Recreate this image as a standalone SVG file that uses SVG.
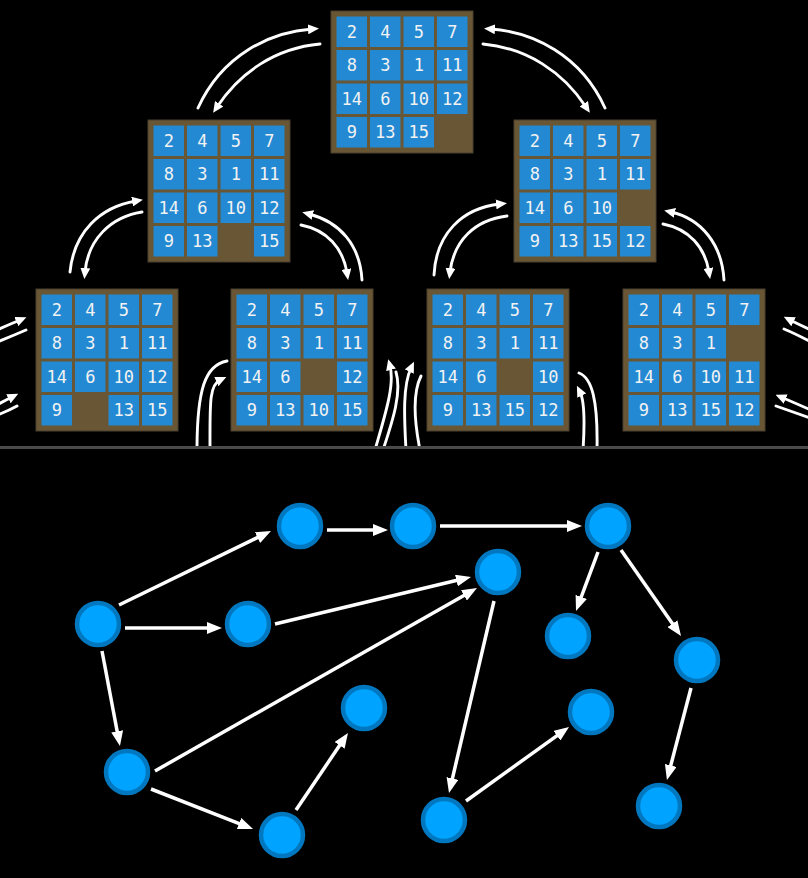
<svg xmlns="http://www.w3.org/2000/svg" width="808" height="878" viewBox="0 0 808 878">
<defs>
<style>
.board{fill:#685634;stroke:#4a4030;stroke-width:1}
.t{fill:#2389d3}
.n{font-family:"DejaVu Sans Mono","Liberation Mono",monospace;font-size:17px;fill:#f2f2f2;text-anchor:middle}
.arc{fill:none;stroke:#fff;stroke-width:2.9;stroke-linecap:round}
.edge{fill:none;stroke:#fff;stroke-width:3.5}
.node{fill:#00a3ff;stroke:#0077be;stroke-width:4.5}
</style>
<marker id="ah" viewBox="0 0 11 10" markerWidth="11" markerHeight="10" refX="4" refY="5" orient="auto" markerUnits="userSpaceOnUse"><path d="M0,0 L11,5 L0,10 z" fill="#fff"/></marker>
<marker id="ah2" viewBox="0 0 15 12" markerWidth="15" markerHeight="12" refX="5" refY="6" orient="auto" markerUnits="userSpaceOnUse"><path d="M0,0 L15,6 L0,12 z" fill="#fff"/></marker>
<clipPath id="topclip"><rect x="0" y="0" width="808" height="446"/></clipPath>
</defs>
<rect x="0" y="0" width="808" height="878" fill="#000"/>

<g id="connectors-top" clip-path="url(#topclip)">
<path class="arc" d="M198,108 C222,55 270,32 312,29" marker-end="url(#ah)"/>
<path class="arc" d="M320,44 C276,48 240,72 217,107" marker-end="url(#ah)"/>
<path class="arc" d="M605,108 C581,55 533,32 491,29" marker-end="url(#ah)"/>
<path class="arc" d="M483,44 C527,48 563,72 586,107" marker-end="url(#ah)"/>
<path class="arc" d="M70,272 C74,232 100,207 136,201" marker-end="url(#ah)"/>
<path class="arc" d="M142,212 C110,217 88,240 85,272" marker-end="url(#ah)"/>
<path class="arc" d="M362,280 C360,245 340,222 309,214" marker-end="url(#ah)"/>
<path class="arc" d="M301,225 C327,230 343,248 347,273" marker-end="url(#ah)"/>
<path class="arc" d="M434,275 C436,234 462,208 500,204" marker-end="url(#ah)"/>
<path class="arc" d="M507,216 C475,220 454,240 450,272" marker-end="url(#ah)"/>
<path class="arc" d="M724,280 C722,245 702,219 671,212" marker-end="url(#ah)"/>
<path class="arc" d="M663,224 C689,229 705,247 709,272" marker-end="url(#ah)"/>
<path class="arc" d="M-5,331 Q8,325 20,320" marker-end="url(#ah)"/>
<path class="arc" d="M26,330 Q12,336 -5,343"/>
<path class="arc" d="M-5,406 Q4,401 12,397" marker-end="url(#ah)"/>
<path class="arc" d="M17,406 Q8,411 -5,416"/>
<path class="arc" d="M813,331 Q800,325 790,320" marker-end="url(#ah)"/>
<path class="arc" d="M784,329 Q796,334 813,343"/>
<path class="arc" d="M813,411 Q795,403 782,397.5" marker-end="url(#ah)"/>
<path class="arc" d="M776,406 Q790,411 813,419"/>
<path class="arc" d="M227,361 C205,365 197,390 197,450"/>
<path class="arc" d="M210,450 C210,405 209,385 220,380" marker-end="url(#ah)"/>
<path class="arc" d="M375,450 C385,415 395,385 390,366" marker-end="url(#ah)"/>
<path class="arc" d="M383,450 C393,420 402,392 396,372"/>
<path class="arc" d="M406,450 C404,415 403,385 411,368" marker-end="url(#ah)"/>
<path class="arc" d="M420,450 C414,420 413,392 421,376"/>
<path class="arc" d="M579,373 C592,378 598,400 597,450"/>
<path class="arc" d="M583,450 C585,420 584,400 580,392" marker-end="url(#ah)"/>
</g>

<g id="board-top" transform="translate(331,11)">
<rect class="board" width="142" height="142"/>
<rect class="t" x="5.5" y="5.5" width="30.5" height="30.5"/><rect class="t" x="39" y="5.5" width="30.5" height="30.5"/><rect class="t" x="72.5" y="5.5" width="30.5" height="30.5"/><rect class="t" x="106" y="5.5" width="30.5" height="30.5"/>
<rect class="t" x="5.5" y="39" width="30.5" height="30.5"/><rect class="t" x="39" y="39" width="30.5" height="30.5"/><rect class="t" x="72.5" y="39" width="30.5" height="30.5"/><rect class="t" x="106" y="39" width="30.5" height="30.5"/>
<rect class="t" x="5.5" y="72.5" width="30.5" height="30.5"/><rect class="t" x="39" y="72.5" width="30.5" height="30.5"/><rect class="t" x="72.5" y="72.5" width="30.5" height="30.5"/><rect class="t" x="106" y="72.5" width="30.5" height="30.5"/>
<rect class="t" x="5.5" y="106" width="30.5" height="30.5"/><rect class="t" x="39" y="106" width="30.5" height="30.5"/><rect class="t" x="72.5" y="106" width="30.5" height="30.5"/>
<text class="n" x="20.75" y="26.5">2</text><text class="n" x="54.25" y="26.5">4</text><text class="n" x="87.75" y="26.5">5</text><text class="n" x="121.25" y="26.5">7</text>
<text class="n" x="20.75" y="60">8</text><text class="n" x="54.25" y="60">3</text><text class="n" x="87.75" y="60">1</text><text class="n" x="121.25" y="60">11</text>
<text class="n" x="20.75" y="93.5">14</text><text class="n" x="54.25" y="93.5">6</text><text class="n" x="87.75" y="93.5">10</text><text class="n" x="121.25" y="93.5">12</text>
<text class="n" x="20.75" y="127">9</text><text class="n" x="54.25" y="127">13</text><text class="n" x="87.75" y="127">15</text>
</g>

<g id="board-mid-left" transform="translate(148,120)">
<rect class="board" width="142" height="142"/>
<rect class="t" x="5.5" y="5.5" width="30.5" height="30.5"/><rect class="t" x="39" y="5.5" width="30.5" height="30.5"/><rect class="t" x="72.5" y="5.5" width="30.5" height="30.5"/><rect class="t" x="106" y="5.5" width="30.5" height="30.5"/>
<rect class="t" x="5.5" y="39" width="30.5" height="30.5"/><rect class="t" x="39" y="39" width="30.5" height="30.5"/><rect class="t" x="72.5" y="39" width="30.5" height="30.5"/><rect class="t" x="106" y="39" width="30.5" height="30.5"/>
<rect class="t" x="5.5" y="72.5" width="30.5" height="30.5"/><rect class="t" x="39" y="72.5" width="30.5" height="30.5"/><rect class="t" x="72.5" y="72.5" width="30.5" height="30.5"/><rect class="t" x="106" y="72.5" width="30.5" height="30.5"/>
<rect class="t" x="5.5" y="106" width="30.5" height="30.5"/><rect class="t" x="39" y="106" width="30.5" height="30.5"/><rect class="t" x="106" y="106" width="30.5" height="30.5"/>
<text class="n" x="20.75" y="26.5">2</text><text class="n" x="54.25" y="26.5">4</text><text class="n" x="87.75" y="26.5">5</text><text class="n" x="121.25" y="26.5">7</text>
<text class="n" x="20.75" y="60">8</text><text class="n" x="54.25" y="60">3</text><text class="n" x="87.75" y="60">1</text><text class="n" x="121.25" y="60">11</text>
<text class="n" x="20.75" y="93.5">14</text><text class="n" x="54.25" y="93.5">6</text><text class="n" x="87.75" y="93.5">10</text><text class="n" x="121.25" y="93.5">12</text>
<text class="n" x="20.75" y="127">9</text><text class="n" x="54.25" y="127">13</text><text class="n" x="121.25" y="127">15</text>
</g>

<g id="board-mid-right" transform="translate(514,120)">
<rect class="board" width="142" height="142"/>
<rect class="t" x="5.5" y="5.5" width="30.5" height="30.5"/><rect class="t" x="39" y="5.5" width="30.5" height="30.5"/><rect class="t" x="72.5" y="5.5" width="30.5" height="30.5"/><rect class="t" x="106" y="5.5" width="30.5" height="30.5"/>
<rect class="t" x="5.5" y="39" width="30.5" height="30.5"/><rect class="t" x="39" y="39" width="30.5" height="30.5"/><rect class="t" x="72.5" y="39" width="30.5" height="30.5"/><rect class="t" x="106" y="39" width="30.5" height="30.5"/>
<rect class="t" x="5.5" y="72.5" width="30.5" height="30.5"/><rect class="t" x="39" y="72.5" width="30.5" height="30.5"/><rect class="t" x="72.5" y="72.5" width="30.5" height="30.5"/>
<rect class="t" x="5.5" y="106" width="30.5" height="30.5"/><rect class="t" x="39" y="106" width="30.5" height="30.5"/><rect class="t" x="72.5" y="106" width="30.5" height="30.5"/><rect class="t" x="106" y="106" width="30.5" height="30.5"/>
<text class="n" x="20.75" y="26.5">2</text><text class="n" x="54.25" y="26.5">4</text><text class="n" x="87.75" y="26.5">5</text><text class="n" x="121.25" y="26.5">7</text>
<text class="n" x="20.75" y="60">8</text><text class="n" x="54.25" y="60">3</text><text class="n" x="87.75" y="60">1</text><text class="n" x="121.25" y="60">11</text>
<text class="n" x="20.75" y="93.5">14</text><text class="n" x="54.25" y="93.5">6</text><text class="n" x="87.75" y="93.5">10</text>
<text class="n" x="20.75" y="127">9</text><text class="n" x="54.25" y="127">13</text><text class="n" x="87.75" y="127">15</text><text class="n" x="121.25" y="127">12</text>
</g>

<g id="board-bottom-1" transform="translate(36,289)">
<rect class="board" width="142" height="142"/>
<rect class="t" x="5.5" y="5.5" width="30.5" height="30.5"/><rect class="t" x="39" y="5.5" width="30.5" height="30.5"/><rect class="t" x="72.5" y="5.5" width="30.5" height="30.5"/><rect class="t" x="106" y="5.5" width="30.5" height="30.5"/>
<rect class="t" x="5.5" y="39" width="30.5" height="30.5"/><rect class="t" x="39" y="39" width="30.5" height="30.5"/><rect class="t" x="72.5" y="39" width="30.5" height="30.5"/><rect class="t" x="106" y="39" width="30.5" height="30.5"/>
<rect class="t" x="5.5" y="72.5" width="30.5" height="30.5"/><rect class="t" x="39" y="72.5" width="30.5" height="30.5"/><rect class="t" x="72.5" y="72.5" width="30.5" height="30.5"/><rect class="t" x="106" y="72.5" width="30.5" height="30.5"/>
<rect class="t" x="5.5" y="106" width="30.5" height="30.5"/><rect class="t" x="72.5" y="106" width="30.5" height="30.5"/><rect class="t" x="106" y="106" width="30.5" height="30.5"/>
<text class="n" x="20.75" y="26.5">2</text><text class="n" x="54.25" y="26.5">4</text><text class="n" x="87.75" y="26.5">5</text><text class="n" x="121.25" y="26.5">7</text>
<text class="n" x="20.75" y="60">8</text><text class="n" x="54.25" y="60">3</text><text class="n" x="87.75" y="60">1</text><text class="n" x="121.25" y="60">11</text>
<text class="n" x="20.75" y="93.5">14</text><text class="n" x="54.25" y="93.5">6</text><text class="n" x="87.75" y="93.5">10</text><text class="n" x="121.25" y="93.5">12</text>
<text class="n" x="20.75" y="127">9</text><text class="n" x="87.75" y="127">13</text><text class="n" x="121.25" y="127">15</text>
</g>

<g id="board-bottom-2" transform="translate(231,289)">
<rect class="board" width="142" height="142"/>
<rect class="t" x="5.5" y="5.5" width="30.5" height="30.5"/><rect class="t" x="39" y="5.5" width="30.5" height="30.5"/><rect class="t" x="72.5" y="5.5" width="30.5" height="30.5"/><rect class="t" x="106" y="5.5" width="30.5" height="30.5"/>
<rect class="t" x="5.5" y="39" width="30.5" height="30.5"/><rect class="t" x="39" y="39" width="30.5" height="30.5"/><rect class="t" x="72.5" y="39" width="30.5" height="30.5"/><rect class="t" x="106" y="39" width="30.5" height="30.5"/>
<rect class="t" x="5.5" y="72.5" width="30.5" height="30.5"/><rect class="t" x="39" y="72.5" width="30.5" height="30.5"/><rect class="t" x="106" y="72.5" width="30.5" height="30.5"/>
<rect class="t" x="5.5" y="106" width="30.5" height="30.5"/><rect class="t" x="39" y="106" width="30.5" height="30.5"/><rect class="t" x="72.5" y="106" width="30.5" height="30.5"/><rect class="t" x="106" y="106" width="30.5" height="30.5"/>
<text class="n" x="20.75" y="26.5">2</text><text class="n" x="54.25" y="26.5">4</text><text class="n" x="87.75" y="26.5">5</text><text class="n" x="121.25" y="26.5">7</text>
<text class="n" x="20.75" y="60">8</text><text class="n" x="54.25" y="60">3</text><text class="n" x="87.75" y="60">1</text><text class="n" x="121.25" y="60">11</text>
<text class="n" x="20.75" y="93.5">14</text><text class="n" x="54.25" y="93.5">6</text><text class="n" x="121.25" y="93.5">12</text>
<text class="n" x="20.75" y="127">9</text><text class="n" x="54.25" y="127">13</text><text class="n" x="87.75" y="127">10</text><text class="n" x="121.25" y="127">15</text>
</g>

<g id="board-bottom-3" transform="translate(427,289)">
<rect class="board" width="142" height="142"/>
<rect class="t" x="5.5" y="5.5" width="30.5" height="30.5"/><rect class="t" x="39" y="5.5" width="30.5" height="30.5"/><rect class="t" x="72.5" y="5.5" width="30.5" height="30.5"/><rect class="t" x="106" y="5.5" width="30.5" height="30.5"/>
<rect class="t" x="5.5" y="39" width="30.5" height="30.5"/><rect class="t" x="39" y="39" width="30.5" height="30.5"/><rect class="t" x="72.5" y="39" width="30.5" height="30.5"/><rect class="t" x="106" y="39" width="30.5" height="30.5"/>
<rect class="t" x="5.5" y="72.5" width="30.5" height="30.5"/><rect class="t" x="39" y="72.5" width="30.5" height="30.5"/><rect class="t" x="106" y="72.5" width="30.5" height="30.5"/>
<rect class="t" x="5.5" y="106" width="30.5" height="30.5"/><rect class="t" x="39" y="106" width="30.5" height="30.5"/><rect class="t" x="72.5" y="106" width="30.5" height="30.5"/><rect class="t" x="106" y="106" width="30.5" height="30.5"/>
<text class="n" x="20.75" y="26.5">2</text><text class="n" x="54.25" y="26.5">4</text><text class="n" x="87.75" y="26.5">5</text><text class="n" x="121.25" y="26.5">7</text>
<text class="n" x="20.75" y="60">8</text><text class="n" x="54.25" y="60">3</text><text class="n" x="87.75" y="60">1</text><text class="n" x="121.25" y="60">11</text>
<text class="n" x="20.75" y="93.5">14</text><text class="n" x="54.25" y="93.5">6</text><text class="n" x="121.25" y="93.5">10</text>
<text class="n" x="20.75" y="127">9</text><text class="n" x="54.25" y="127">13</text><text class="n" x="87.75" y="127">15</text><text class="n" x="121.25" y="127">12</text>
</g>

<g id="board-bottom-4" transform="translate(623,289)">
<rect class="board" width="142" height="142"/>
<rect class="t" x="5.5" y="5.5" width="30.5" height="30.5"/><rect class="t" x="39" y="5.5" width="30.5" height="30.5"/><rect class="t" x="72.5" y="5.5" width="30.5" height="30.5"/><rect class="t" x="106" y="5.5" width="30.5" height="30.5"/>
<rect class="t" x="5.5" y="39" width="30.5" height="30.5"/><rect class="t" x="39" y="39" width="30.5" height="30.5"/><rect class="t" x="72.5" y="39" width="30.5" height="30.5"/>
<rect class="t" x="5.5" y="72.5" width="30.5" height="30.5"/><rect class="t" x="39" y="72.5" width="30.5" height="30.5"/><rect class="t" x="72.5" y="72.5" width="30.5" height="30.5"/><rect class="t" x="106" y="72.5" width="30.5" height="30.5"/>
<rect class="t" x="5.5" y="106" width="30.5" height="30.5"/><rect class="t" x="39" y="106" width="30.5" height="30.5"/><rect class="t" x="72.5" y="106" width="30.5" height="30.5"/><rect class="t" x="106" y="106" width="30.5" height="30.5"/>
<text class="n" x="20.75" y="26.5">2</text><text class="n" x="54.25" y="26.5">4</text><text class="n" x="87.75" y="26.5">5</text><text class="n" x="121.25" y="26.5">7</text>
<text class="n" x="20.75" y="60">8</text><text class="n" x="54.25" y="60">3</text><text class="n" x="87.75" y="60">1</text>
<text class="n" x="20.75" y="93.5">14</text><text class="n" x="54.25" y="93.5">6</text><text class="n" x="87.75" y="93.5">10</text><text class="n" x="121.25" y="93.5">11</text>
<text class="n" x="20.75" y="127">9</text><text class="n" x="54.25" y="127">13</text><text class="n" x="87.75" y="127">15</text><text class="n" x="121.25" y="127">12</text>
</g>

<line x1="0" y1="447.5" x2="808" y2="447.5" stroke="#4a4a4a" stroke-width="3"/>

<g id="connectors-graph">
<line class="edge" x1="119" y1="605" x2="262" y2="535.4" marker-end="url(#ah2)"/>
<line class="edge" x1="125" y1="628" x2="212" y2="628" marker-end="url(#ah2)"/>
<line class="edge" x1="102" y1="651" x2="118.1" y2="736.2" marker-end="url(#ah2)"/>
<line class="edge" x1="327" y1="530" x2="378" y2="530" marker-end="url(#ah2)"/>
<line class="edge" x1="440" y1="526" x2="572" y2="526" marker-end="url(#ah2)"/>
<line class="edge" x1="275" y1="624" x2="461.3" y2="579.3" marker-end="url(#ah2)"/>
<line class="edge" x1="155" y1="771" x2="468.3" y2="592.9" marker-end="url(#ah2)"/>
<line class="edge" x1="598" y1="552" x2="579.5" y2="601.6" marker-end="url(#ah2)"/>
<line class="edge" x1="621" y1="550" x2="675.3" y2="627.8" marker-end="url(#ah2)"/>
<line class="edge" x1="494" y1="601" x2="451.3" y2="783.3" marker-end="url(#ah2)"/>
<line class="edge" x1="691" y1="688" x2="669.5" y2="770.3" marker-end="url(#ah2)"/>
<line class="edge" x1="151" y1="789" x2="243.7" y2="825.3" marker-end="url(#ah2)"/>
<line class="edge" x1="296" y1="810" x2="342.4" y2="741.3" marker-end="url(#ah2)"/>
<line class="edge" x1="466" y1="801" x2="560.9" y2="732.8" marker-end="url(#ah2)"/>
</g>

<g id="node-a"><circle class="node" cx="98" cy="624" r="21"/></g>
<g id="node-b"><circle class="node" cx="300" cy="526" r="21"/></g>
<g id="node-c"><circle class="node" cx="248" cy="624" r="21"/></g>
<g id="node-d"><circle class="node" cx="413" cy="526" r="21"/></g>
<g id="node-e"><circle class="node" cx="608" cy="526" r="21"/></g>
<g id="node-f"><circle class="node" cx="498" cy="572" r="21"/></g>
<g id="node-g"><circle class="node" cx="568" cy="636" r="21"/></g>
<g id="node-h"><circle class="node" cx="697" cy="660" r="21"/></g>
<g id="node-i"><circle class="node" cx="364" cy="708" r="21"/></g>
<g id="node-j"><circle class="node" cx="591" cy="712" r="21"/></g>
<g id="node-k"><circle class="node" cx="127" cy="772" r="21"/></g>
<g id="node-l"><circle class="node" cx="282" cy="835" r="21"/></g>
<g id="node-m"><circle class="node" cx="444" cy="820" r="21"/></g>
<g id="node-n"><circle class="node" cx="659" cy="806" r="21"/></g>
</svg>
